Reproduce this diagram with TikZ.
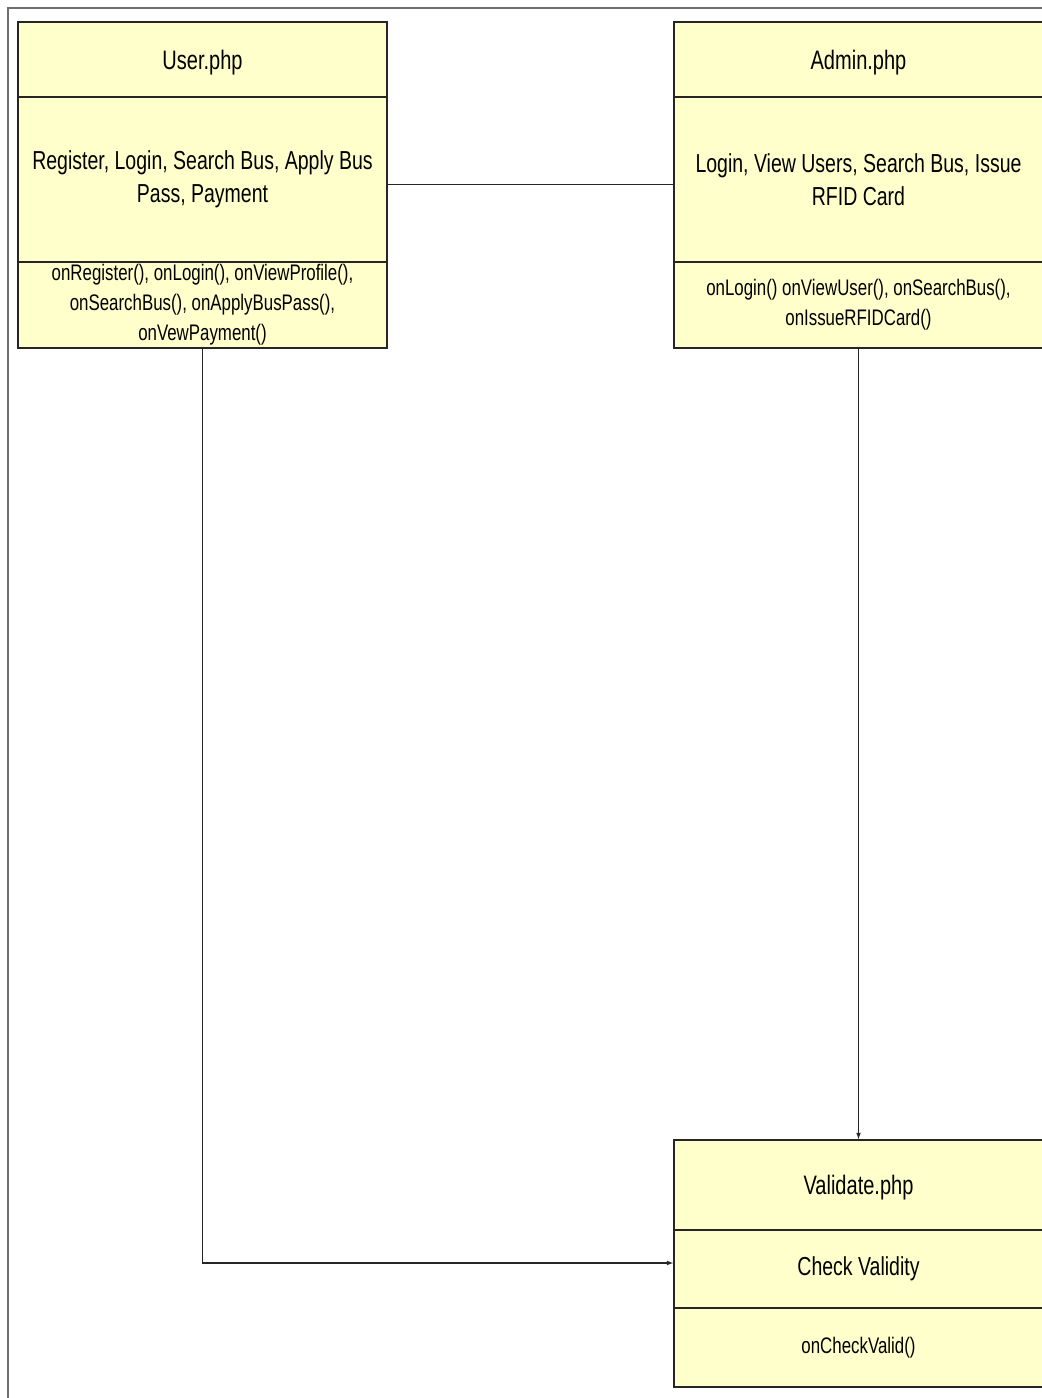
\documentclass[tikz,border=0pt]{standalone}
\usepackage{fontspec}
\setmainfont{Liberation Sans}[FakeStretch=0.75]
\usetikzlibrary{positioning,arrows.meta}
\definecolor{classfill}{RGB}{255,255,204}
\definecolor{framegray}{RGB}{110,110,110}
\tikzset{
	classpart/.style={draw=black!85, line width=0.9pt, fill=classfill, minimum width=9.225cm, inner sep=0pt, outer sep=0pt, align=center},
	namepart/.style={classpart, text depth=0pt, font=\fontsize{19}{23.5}\selectfont},
	oppart/.style={classpart, font=\fontsize{18.5}{23.5}\selectfont},
	methpart/.style={classpart, font=\fontsize{16}{21.3}\selectfont},
	link/.style={line width=1.1pt, black!85},
	flow/.style={link, -{Latex[length=1.8mm,width=1.2mm]}}
}

\begin{document}
\begin{tikzpicture}
	\useasboundingbox (0,0) rectangle (26.05,34.95);
	\clip (0,0) rectangle (26.05,34.95);
	\draw[framegray, line width=0.8pt] (0.2,-1) rectangle (27,34.75);
	
	\node[namepart, minimum height=1.875cm, anchor=north west] (user) at (0.45,34.4) {User.php};
	\node[oppart, minimum height=4.125cm, below=0pt of user] (userops) {Register, Login, Search Bus, Apply Bus\\Pass, Payment};
	\node[methpart, minimum height=2.15cm, below=0pt of userops] (usermeth) {onRegister(), onLogin(), onViewProfile(),\\onSearchBus(), onApplyBusPass(),\\onVewPayment()};
	
	\node[namepart, minimum height=1.875cm, anchor=north west] (admin) at (16.85,34.4) {Admin.php};
	\node[oppart, minimum height=4.125cm, below=0pt of admin] (adminops) {Login, View Users, Search Bus, Issue\\RFID Card};
	\node[methpart, minimum height=2.15cm, below=0pt of adminops] (adminmeth) {onLogin() onViewUser(), onSearchBus(),\\onIssueRFIDCard()};
	
	\node[namepart, minimum height=2.25cm, anchor=north west] (valid) at (16.85,6.45) {Validate.php};
	\node[oppart, minimum height=1.95cm, below=0pt of valid] (validops) {Check Validity};
	\node[methpart, minimum height=1.975cm, below=0pt of validops] (validmeth) {onCheckValid()};
	
	\draw[link] ([yshift=-0.13cm]userops.east) -- ([yshift=-0.13cm]adminops.west);
	\draw[flow] (adminmeth.south) -- (valid.north);
	\draw[flow] (usermeth.south) |- ([yshift=0.15cm]validops.west);
\end{tikzpicture}
\end{document}
